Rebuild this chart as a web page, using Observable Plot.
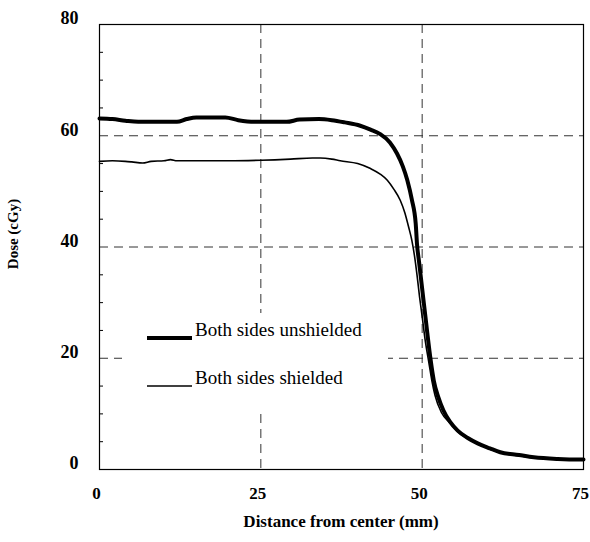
<!DOCTYPE html>
<html>
<head>
<meta charset="utf-8">
<script src="https://cdn.jsdelivr.net/npm/d3@7"></script>
<script src="https://cdn.jsdelivr.net/npm/@observablehq/plot@0.6"></script>
<style>
  html, body { margin: 0; padding: 0; background: #fff; }
  #chart svg { display: block; }
</style>
</head>
<body>
<div id="chart"></div>
<script>
// Distance from center (mm) and dose (cGy)
const unshieldedX = [0, 2, 4, 6, 10, 12, 13.5, 15, 19.5, 21.5, 24, 29, 31, 34, 36, 38, 40.4, 42, 43.5, 45, 46.1, 47, 47.7, 48.4, 49.0, 49.2, 49.5, 50, 50.5, 50.8, 51.3, 51.8, 52.5, 53.3, 54.3, 55.5, 57, 58.6, 60.5, 62.1, 65, 67.3, 71, 74.5, 75];
const unshieldedY = [63.1, 63.0, 62.7, 62.5, 62.5, 62.5, 63.0, 63.3, 63.3, 62.8, 62.5, 62.5, 62.9, 63.0, 62.8, 62.4, 61.8, 61.1, 60.3, 58.8, 56.8, 54.5, 52.0, 48.5, 44.2, 40.5, 37.5, 32.5, 27.5, 24.5, 19.8, 16.0, 13.0, 10.6, 8.6, 7.0, 5.7, 4.7, 3.8, 3.1, 2.6, 2.2, 1.9, 1.8, 1.8];

const shieldedX = [0, 2, 4, 5, 6.7, 8, 10, 11, 12, 15, 20, 25, 29.6, 33, 34.2, 36, 37.3, 40, 42, 43.5, 44.6, 45.6, 46.6, 47.3, 47.9, 48.4, 48.8, 49.2, 49.6, 50, 50.5, 51, 51.5, 52, 53, 54.3, 55.5, 57, 58.6, 60.5, 62.1, 65, 67.3, 71, 74.5, 75];
const shieldedY = [55.4, 55.5, 55.4, 55.3, 55.1, 55.4, 55.5, 55.7, 55.5, 55.5, 55.5, 55.6, 55.8, 56.0, 56.0, 55.8, 55.5, 55.0, 54.1, 53.1, 52.0, 50.4, 48.4, 46.2, 43.6, 41.2, 38.5, 35.0, 31.0, 27.5, 23.0, 19.5, 16.0, 13.3, 10.2, 8.4, 6.8, 5.6, 4.6, 3.7, 3.0, 2.5, 2.1, 1.8, 1.7, 1.7];

const xTicks = [0, 25, 50, 75];
const yTicks = [0, 20, 40, 60, 80];
const yMinor = [5, 10, 15, 25, 30, 35, 45, 50, 55, 65, 70, 75];
const xGrid = [25, 50];
const yGrid = [20, 40, 60];
const seriesNames = ["Both sides unshielded", "Both sides shielded"];
const xLabel = "Distance from center (mm)";
const yLabel = "Dose (cGy)";

const unshielded = unshieldedX.map((x, i) => ({x, y: unshieldedY[i]}));
const shielded = shieldedX.map((x, i) => ({x, y: shieldedY[i]}));

const W = 590, H = 542;
const mL = 99, mR = 7, mT = 24, mB = 73;
const font = "'Liberation Serif', 'Times New Roman', serif";

const chart = Plot.plot({
  width: W, height: H,
  marginLeft: mL, marginRight: mR, marginTop: mT, marginBottom: mB,
  style: {fontFamily: font, background: "#fff", color: "#000"},
  x: {domain: [0, 75]},
  y: {domain: [0, 80]},
  marks: [
    Plot.ruleX(xGrid, {stroke: "#333", strokeWidth: 1, strokeDasharray: "9,6"}),
    Plot.ruleY(yGrid, {stroke: "#333", strokeWidth: 1, strokeDasharray: "9,6"}),
    Plot.axisY({ticks: yMinor, tickSize: -4, tickFormat: () => "", stroke: "#000", label: null}),
    Plot.axisY({ticks: yTicks, tickSize: 0, tickPadding: 21, dy: -6, fontSize: 18, fontWeight: "bold", label: null}),
    Plot.axisX({ticks: xTicks, tickSize: 0, tickPadding: 17, dx: -3, fontSize: 17, fontWeight: "bold", label: null}),
    Plot.line(shielded, {x: "x", y: "y", stroke: "#000", strokeWidth: 1.6, curve: "monotone-x"}),
    Plot.line(unshielded, {x: "x", y: "y", stroke: "#000", strokeWidth: 4, curve: "monotone-x"}),
    Plot.frame({stroke: "#000", strokeWidth: 1.2})
  ]
});

document.getElementById("chart").appendChild(chart);

const svg = d3.select(chart);
// axis titles
svg.append("text")
  .attr("x", (mL + W - mR) / 2).attr("y", 523)
  .attr("text-anchor", "middle").attr("dominant-baseline", "middle")
  .style("font-family", font).style("font-size", "17px").style("font-weight", "bold")
  .text(xLabel);
svg.append("text")
  .attr("transform", `translate(15,${234}) rotate(-90)`)
  .attr("text-anchor", "middle").attr("dominant-baseline", "middle")
  .style("font-family", font).style("font-size", "15px").style("font-weight", "bold")
  .text(yLabel);

// legend (inside plot, with blanked background)
const lg = svg.append("g");
lg.append("rect").attr("x", 122).attr("y", 313).attr("width", 266).attr("height", 100).attr("fill", "#fff");
const rows = [{name: seriesNames[0], w: 4, y: 338}, {name: seriesNames[1], w: 1.6, y: 386}];
rows.forEach(r => {
  lg.append("line").attr("x1", 147).attr("x2", 192).attr("y1", r.y).attr("y2", r.y)
    .attr("stroke", "#000").attr("stroke-width", r.w);
  lg.append("text").attr("x", 195).attr("y", r.y - 6)
    .attr("text-anchor", "start")
    .attr("dominant-baseline", "middle")
    .style("font-family", font).style("font-size", "19px")
    .text(r.name);
});
</script>
</body>
</html>
